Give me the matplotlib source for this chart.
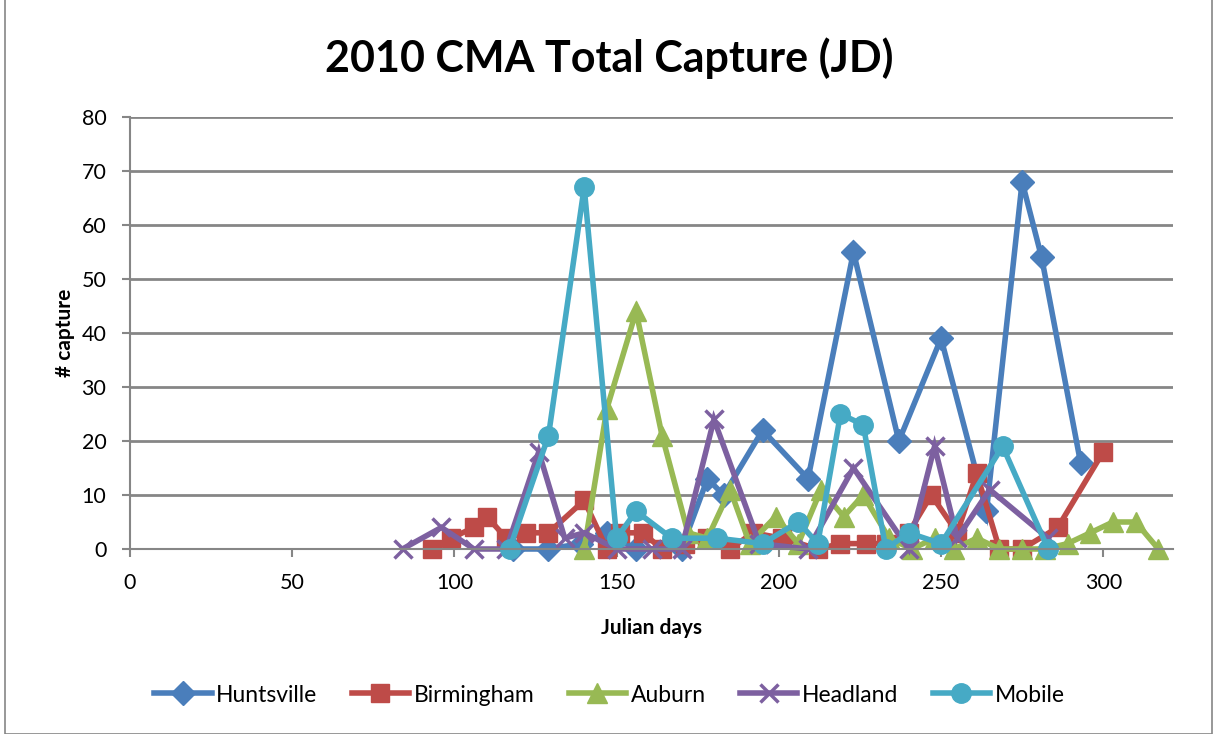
import matplotlib
matplotlib.use("Agg")
import matplotlib.pyplot as plt
from matplotlib.patches import Rectangle

plt.rcParams['font.family'] = ['Lato', 'DejaVu Sans']

# Julian day of each trap check and the number captured
huntsville_days = [118, 129, 139, 147, 156, 170, 178, 183, 195, 209, 223, 237, 250, 264, 275, 281, 293]
huntsville_vals = [0, 0, 1, 3, 0, 0, 13, 10, 22, 13, 55, 20, 39, 7, 68, 54, 16]

birmingham_days = [93, 99, 106, 110, 116, 122, 129, 140, 147, 151, 158, 164, 171, 178, 185, 192, 201,
                   212, 219, 227, 233, 240, 247, 255, 261, 268, 275, 286, 300]
birmingham_vals = [0, 2, 4, 6, 2, 3, 3, 9, 0, 3, 3, 0, 1, 2, 0, 3, 2,
                   0, 1, 1, 1, 3, 10, 3, 14, 0, 0, 4, 18]

auburn_days = [140, 147, 156, 164, 172, 178, 185, 191, 199, 206, 213, 220, 226, 234, 241, 248, 254,
               261, 268, 275, 282, 289, 296, 303, 310, 317]
auburn_vals = [0, 26, 44, 21, 3, 2, 11, 1, 6, 1, 11, 6, 10, 2, 0, 2, 0,
               2, 0, 0, 0, 1, 3, 5, 5, 0]

headland_days = [84, 96, 106, 116, 126, 134, 140, 150, 161, 170, 180, 194, 209, 223, 240, 248, 255, 265, 283]
headland_vals = [0, 4, 0, 0, 18, 2, 3, 0, 0, 0, 24, 1, 0, 15, 0, 19, 2, 11, 2]

mobile_days = [117, 129, 140, 150, 156, 167, 181, 195, 206, 212, 219, 226, 233, 240, 250, 269, 283]
mobile_vals = [0, 21, 67, 2, 7, 2, 2, 1, 5, 1, 25, 23, 0, 3, 1, 19, 0]

series = [
    ("Huntsville", huntsville_days, huntsville_vals, "#4A7EBB", "D", 12),
    ("Birmingham", birmingham_days, birmingham_vals, "#BE4B48", "s", 13),
    ("Auburn", auburn_days, auburn_vals, "#98B954", "^", 15),
    ("Headland", headland_days, headland_vals, "#7D60A0", "x", 13),
    ("Mobile", mobile_days, mobile_vals, "#46AAC5", "o", 14),
]

fig = plt.figure(figsize=(12.19, 7.34), dpi=100)
ax = fig.add_axes([130 / 1219, 1 - 549 / 734, (1173 - 130) / 1219, (549 - 117) / 734])

grid_col = "#868686"
for name, xs, ys, col, mk, ms in series:
    ax.plot(xs, ys, color=col, lw=4, marker=mk, markersize=ms,
            markeredgewidth=2.5 if mk == "x" else 1, markeredgecolor=col,
            markerfacecolor=col, label=name, solid_joinstyle="miter", clip_on=False)

ax.set_xlim(0, 321.5)
ax.set_ylim(0, 80)
ax.set_xticks(range(0, 301, 50))
ax.set_yticks(range(0, 81, 10))
ax.yaxis.grid(True, color=grid_col, lw=2)
ax.set_axisbelow(True)
for s in ("top", "right"):
    ax.spines[s].set_visible(False)
for s in ("left", "bottom"):
    ax.spines[s].set_color(grid_col)
    ax.spines[s].set_linewidth(1.5)
ax.tick_params(axis="both", colors=grid_col, labelcolor="black", labelsize=15.5,
               length=6, width=1.5)
ax.tick_params(axis="x", pad=11)
ax.tick_params(axis="y", pad=11)

ax.set_xlabel("Julian days", fontsize=15, fontweight="bold", labelpad=18)
ax.set_ylabel("# capture", fontsize=15, fontweight="bold", labelpad=5)

fig.text(0.5, 1 - 58 / 734, "2010 CMA Total Capture (JD)", ha="center", va="center",
         fontsize=31, fontweight="bold")

leg = fig.legend(loc="center", bbox_to_anchor=(0.5, 1 - 695 / 734), ncol=5, frameon=False,
                 fontsize=16.5, handlelength=2.5, columnspacing=1.5, handletextpad=0.2)

fig.patches.append(Rectangle((5 / 1219, 0), 1207 / 1219, 1.2, transform=fig.transFigure,
                             fill=False, edgecolor=grid_col, lw=1.2))

fig.savefig("out.png", dpi=100)
